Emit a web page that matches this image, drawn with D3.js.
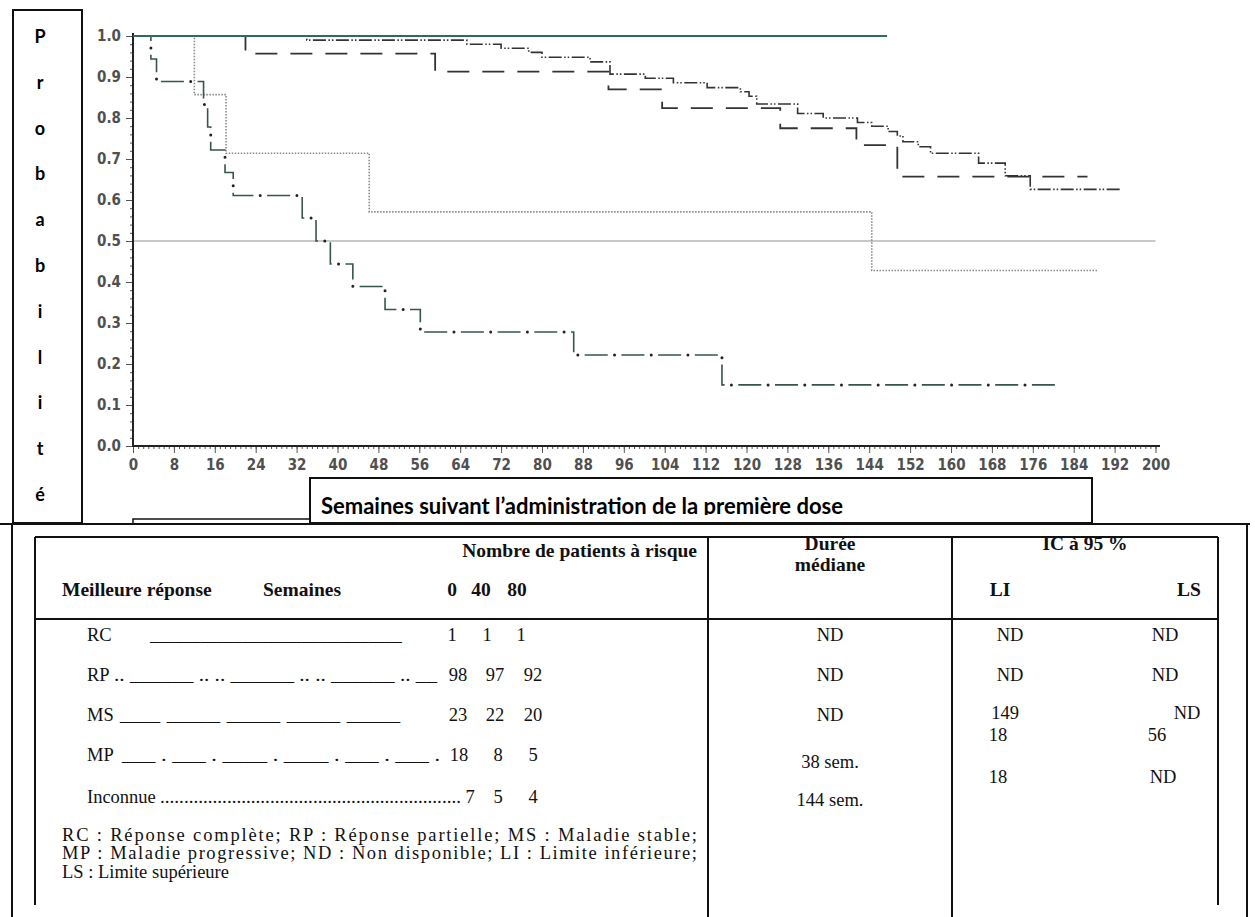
<!DOCTYPE html>
<html>
<head>
<meta charset="utf-8">
<script src="https://cdn.jsdelivr.net/npm/d3@7"></script>
<style>
  body { margin: 0; background: #fff; }
  svg { display: block; }
  .tick text { font-family: "Liberation Sans Narrow", "DejaVu Sans Condensed", sans-serif; font-stretch: condensed; font-weight: bold; font-size: 15px; fill: #505050; }
  .serif { font-family: "Liberation Serif", "Times New Roman", serif; font-size: 18.5px; fill: #111; }
</style>
</head>
<body>
<script>
// tick labels
const xTicks = [0, 8, 16, 24, 32, 40, 48, 56, 64, 72, 80, 88, 96, 104, 112, 120, 128, 136, 144, 152, 160, 168, 176, 184, 192, 200];
const yTicks = [0.0, 0.1, 0.2, 0.3, 0.4, 0.5, 0.6, 0.7, 0.8, 0.9, 1.0];
const yLetters = ['P', 'r', 'o', 'b', 'a', 'b', 'i', 'l', 'i', 't', 'é'];

// survival curves: [week, probability], last point = end of follow-up
const rcCurve = [[0, 1.0], [147.5, 1.0]];
const rpCurve = [[0, 1.0], [34, 0.99], [65.3, 0.98], [72, 0.97], [77.4, 0.96], [80, 0.948], [89.4, 0.937],
  [93.3, 0.907], [100.2, 0.897], [105.7, 0.886], [112.3, 0.874], [118.8, 0.864], [120.5, 0.853], [122, 0.834],
  [130, 0.811], [135, 0.80], [141.7, 0.789], [144.5, 0.78], [147.7, 0.767], [149.5, 0.756], [150.6, 0.742],
  [153.6, 0.73], [156, 0.714], [165.4, 0.69], [170.6, 0.659], [175.5, 0.626], [193.2, 0.626]];
const msCurve = [[0, 1.0], [22, 0.957], [59.1, 0.913], [93, 0.87], [103.5, 0.824], [126.6, 0.775],
  [141.5, 0.734], [149.5, 0.657], [186.7, 0.657]];
const mpCurve = [[0, 1.0], [3.5, 0.944], [4.6, 0.889], [13.8, 0.833], [14.6, 0.778], [15.2, 0.722],
  [18, 0.667], [19.6, 0.611], [33.1, 0.556], [35.8, 0.5], [38.6, 0.444], [43, 0.389], [49.3, 0.333],
  [56.2, 0.278], [86.2, 0.222], [115.2, 0.149], [180.7, 0.149]];
const unkCurve = [[0, 1.0], [12, 0.857], [18.2, 0.714], [46.2, 0.571], [144.5, 0.428], [188.8, 0.428]];

// table
const groups = ['RC', 'RP', 'MS', 'MP', 'Inconnue'];
const groupPatterns = ['______________________________', '.. ______ .. .. ______ .. .. ______ .. __',
  '___    ____    ____    ____    ____', '___ . ___ . ____ . ____ . ___ . ___ .',
  '...............................................................'];
const atRisk0 = ['1', '98', '23', '18', '7'];
const atRisk40 = ['1', '97', '22', '8', '5'];
const atRisk80 = ['1', '92', '20', '5', '4'];
const medians = ['ND', 'ND', 'ND', '38 sem.', '144 sem.'];
const ciLow = ['ND', 'ND', '149', '18', '18'];
const ciHigh = ['ND', 'ND', 'ND', '56', 'ND'];
const footnote = ['RC : Réponse complète; RP : Réponse partielle; MS : Maladie stable;',
  'MP : Maladie progressive; ND : Non disponible; LI : Limite inférieure;',
  'LS : Limite supérieure'];

const W = 1255, H = 917;
const svg = d3.select('body').append('svg').attr('width', W).attr('height', H);
svg.append('rect').attr('width', W).attr('height', H).attr('fill', '#fff');

const x = d3.scaleLinear().domain([0, 200]).range([133, 1155.5]);
const y = d3.scaleLinear().domain([0, 1]).range([446, 36]);

// y label box
svg.append('rect').attr('x', 13).attr('y', 10).attr('width', 69).attr('height', 513)
  .attr('fill', 'none').attr('stroke', '#111').attr('stroke-width', 2);
svg.append('g').selectAll('text').data(yLetters).join('text')
  .attr('x', 40).attr('y', (d, i) => 43 + i * 45.8)
  .attr('text-anchor', 'middle')
  .style('font-family', 'Lato, "Open Sans", sans-serif').style('font-weight', 'bold').style('font-size', '18px')
  .text(d => d);

// reference line at 0.5
svg.append('line').attr('x1', x(0)).attr('x2', x(200)).attr('y1', y(0.5)).attr('y2', y(0.5))
  .attr('stroke', '#c8c8c8').attr('stroke-width', 2);

// axes
const xMinor = svg.append('g').attr('transform', `translate(0,${y(0)})`)
  .call(d3.axisBottom(x).tickValues(d3.range(0, 201, 1)).tickSize(3).tickFormat(''));
const xAxis = svg.append('g').attr('transform', `translate(0,${y(0)})`)
  .call(d3.axisBottom(x).tickValues(xTicks).tickSize(7).tickPadding(6).tickFormat(d3.format('d')));
const yMinor = svg.append('g').attr('transform', `translate(${x(0)},0)`)
  .call(d3.axisLeft(y).tickValues(d3.range(0, 1.001, 0.02)).tickSize(3).tickFormat(''));
const yAxis = svg.append('g').attr('transform', `translate(${x(0)},0)`)
  .call(d3.axisLeft(y).tickValues(yTicks).tickSize(7).tickPadding(5).tickFormat(d3.format('.1f')));
[xMinor, xAxis, yMinor, yAxis].forEach(g => {
  g.selectAll('.tick line').attr('stroke', '#555').attr('stroke-width', 1);
  g.select('.domain').remove();
});
svg.append('line').attr('x1', x(0)).attr('x2', 1160).attr('y1', y(0)).attr('y2', y(0))
  .attr('stroke', '#222').attr('stroke-width', 2);
svg.append('line').attr('x1', x(0)).attr('x2', x(0)).attr('y1', 33).attr('y2', y(0) + 1)
  .attr('stroke', '#222').attr('stroke-width', 2);

// curves
const line = d3.line().x(d => x(d[0])).y(d => y(d[1])).curve(d3.curveStepAfter);
const curves = svg.append('g').attr('fill', 'none');
curves.append('path').attr('d', line(unkCurve))
  .attr('stroke', '#8a8a8a').attr('stroke-width', 1.6).attr('stroke-dasharray', '1.5 1.5');
curves.append('path').attr('d', line(msCurve))
  .attr('stroke', '#333').attr('stroke-width', 1.8).attr('stroke-dasharray', '22 13');
curves.append('path').attr('d', line(rpCurve))
  .attr('stroke', '#333').attr('stroke-width', 1.6).attr('stroke-dasharray', '13 2.5 1.5 2 1.5 2.5');
curves.append('path').attr('d', line(mpCurve))
  .attr('stroke', '#36554d').attr('stroke-width', 1.6).attr('stroke-dasharray', '23 13.7');
curves.append('path').attr('d', line(mpCurve))
  .attr('stroke', '#222').attr('stroke-width', 3).attr('stroke-linecap', 'round')
  .attr('stroke-dasharray', '0 36.7').attr('stroke-dashoffset', -29.8);
curves.append('path').attr('d', line(rcCurve))
  .attr('stroke', '#2f6a5c').attr('stroke-width', 1.8);

// x label box
svg.append('defs').append('clipPath').attr('id', 'xlab-clip')
  .append('rect').attr('x', 310).attr('y', 478).attr('width', 782).attr('height', 37);
svg.append('rect').attr('x', 310).attr('y', 478).attr('width', 782).attr('height', 45)
  .attr('fill', '#fff').attr('stroke', '#111').attr('stroke-width', 2);
svg.append('text').attr('x', 321).attr('y', 514).attr('clip-path', 'url(#xlab-clip)')
  .style('font-family', 'Lato, "Open Sans", sans-serif').style('font-weight', 'bold').style('font-size', '22px')
  .text('Semaines suivant l’administration de la première dose');
svg.append('path').attr('d', 'M133,524V519H310')
  .attr('fill', 'none').attr('stroke', '#111').attr('stroke-width', 1.5);

// outer box
svg.append('path').attr('d', `M0,524H1250M12,524V${H}M1247,524V${H}`)
  .attr('fill', 'none').attr('stroke', '#111').attr('stroke-width', 2);

// table frame
const tLeft = 35, tRight = 1218, tTop = 537, tHead = 619, col1 = 708, col2 = 952;
svg.append('path')
  .attr('d', `M${tLeft},${tTop}H${tRight}M${tLeft},${tHead}H${tRight}` +
    `M${tLeft},${tTop}V905M${tRight},${tTop}V905M${col1},${tTop}V${H}M${col2},${tTop}V${H}`)
  .attr('fill', 'none').attr('stroke', '#111').attr('stroke-width', 2);

// table header
const head = svg.append('g').attr('class', 'serif').style('font-weight', 'bold').style('font-size', '19.5px');
head.append('text').attr('x', 697).attr('y', 557).attr('text-anchor', 'end').text('Nombre de patients à risque');
head.append('text').attr('x', 62).attr('y', 596).text('Meilleure réponse');
head.append('text').attr('x', 263).attr('y', 596).text('Semaines');
head.append('text').attr('x', 452).attr('y', 596).attr('text-anchor', 'middle').text('0');
head.append('text').attr('x', 481).attr('y', 596).attr('text-anchor', 'middle').text('40');
head.append('text').attr('x', 517).attr('y', 596).attr('text-anchor', 'middle').text('80');
head.append('text').attr('x', 830).attr('y', 550).attr('text-anchor', 'middle').text('Durée');
head.append('text').attr('x', 830).attr('y', 571).attr('text-anchor', 'middle').text('médiane');
head.append('text').attr('x', 1085).attr('y', 550).attr('text-anchor', 'middle').text('IC à 95 %');
head.append('text').attr('x', 1000).attr('y', 596).attr('text-anchor', 'middle').text('LI');
head.append('text').attr('x', 1189).attr('y', 596).attr('text-anchor', 'middle').text('LS');

// table rows
const rowY = [641, 681, 721, 761, 803];
const patStart = [150, 114, 120, 122, 160];
const patEnd = [402, 437, 400, 440, 461];
const risk0X = [452, 458, 458, 459, 470];
const risk40X = [487, 495, 495, 498, 498];
const risk80X = [521, 533, 533, 533, 533];
const medY = [641, 681, 721, 768, 806];
const ciY = [641, 681, 719, 741, 783];
const ciLowX = [1010, 1010, 1005, 998, 998];
const ciHighX = [1165, 1165, 1187, 1157, 1163];

const body = svg.append('g').attr('class', 'serif');
groups.forEach((g, i) => {
  body.append('text').attr('x', 87).attr('y', rowY[i]).text(g);
  body.append('text').attr('x', patStart[i]).attr('y', rowY[i])
    .attr('textLength', patEnd[i] - patStart[i]).attr('lengthAdjust', 'spacingAndGlyphs')
    .text(groupPatterns[i]);
  body.append('text').attr('x', risk0X[i]).attr('y', rowY[i]).attr('text-anchor', 'middle').text(atRisk0[i]);
  body.append('text').attr('x', risk40X[i]).attr('y', rowY[i]).attr('text-anchor', 'middle').text(atRisk40[i]);
  body.append('text').attr('x', risk80X[i]).attr('y', rowY[i]).attr('text-anchor', 'middle').text(atRisk80[i]);
  body.append('text').attr('x', 830).attr('y', medY[i]).attr('text-anchor', 'middle').text(medians[i]);
  body.append('text').attr('x', ciLowX[i]).attr('y', ciY[i]).attr('text-anchor', 'middle').text(ciLow[i]);
  body.append('text').attr('x', ciHighX[i]).attr('y', ciY[i]).attr('text-anchor', 'middle').text(ciHigh[i]);
});

// footnote
const footY = [841, 859, 878];
footnote.forEach((t, i) => {
  const tx = body.append('text').attr('x', 62).attr('y', footY[i]).text(t);
  if (i < 2) tx.attr('textLength', 635).attr('lengthAdjust', 'spacing');
});
</script>
</body>
</html>
